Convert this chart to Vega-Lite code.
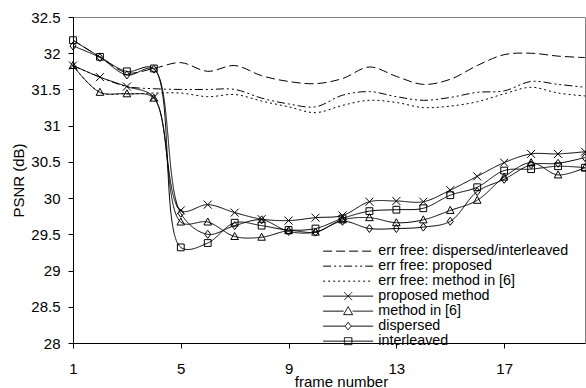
{
  "$schema": "https://vega.github.io/schema/vega-lite/v6.json",
  "width": 512,
  "height": 326,
  "autosize": {"type": "none"},
  "padding": {"left": 73, "top": 17, "right": 1, "bottom": 45},
  "background": "white",
  "config": {
    "view": {"stroke": "#808080", "strokeWidth": 1},
    "font": "Liberation Sans",
    "axis": {"grid": false, "domainColor": "black", "tickColor": "black", "labelColor": "black", "titleColor": "black", "titleFontWeight": "normal", "labelFont": "Liberation Sans", "titleFont": "Liberation Sans", "labelFontSize": 15, "titleFontSize": 15, "tickSize": 5}
  },
  "data": {"values": [
    {"s":"err free: dispersed/interleaved","f":1,"v":32.18},{"s":"err free: dispersed/interleaved","f":2,"v":31.95},{"s":"err free: dispersed/interleaved","f":3,"v":31.73},{"s":"err free: dispersed/interleaved","f":4,"v":31.79},{"s":"err free: dispersed/interleaved","f":5,"v":31.87},{"s":"err free: dispersed/interleaved","f":6,"v":31.75},{"s":"err free: dispersed/interleaved","f":7,"v":31.83},{"s":"err free: dispersed/interleaved","f":8,"v":31.69},{"s":"err free: dispersed/interleaved","f":9,"v":31.61},{"s":"err free: dispersed/interleaved","f":10,"v":31.58},{"s":"err free: dispersed/interleaved","f":11,"v":31.65},{"s":"err free: dispersed/interleaved","f":12,"v":31.81},{"s":"err free: dispersed/interleaved","f":13,"v":31.68},{"s":"err free: dispersed/interleaved","f":14,"v":31.57},{"s":"err free: dispersed/interleaved","f":15,"v":31.64},{"s":"err free: dispersed/interleaved","f":16,"v":31.83},{"s":"err free: dispersed/interleaved","f":17,"v":31.98},{"s":"err free: dispersed/interleaved","f":18,"v":32.0},{"s":"err free: dispersed/interleaved","f":19,"v":31.96},{"s":"err free: dispersed/interleaved","f":20,"v":31.94},
    {"s":"err free: proposed","f":1,"v":31.83},{"s":"err free: proposed","f":2,"v":31.67},{"s":"err free: proposed","f":3,"v":31.54},{"s":"err free: proposed","f":4,"v":31.51},{"s":"err free: proposed","f":5,"v":31.5},{"s":"err free: proposed","f":6,"v":31.5},{"s":"err free: proposed","f":7,"v":31.5},{"s":"err free: proposed","f":8,"v":31.38},{"s":"err free: proposed","f":9,"v":31.3},{"s":"err free: proposed","f":10,"v":31.26},{"s":"err free: proposed","f":11,"v":31.42},{"s":"err free: proposed","f":12,"v":31.47},{"s":"err free: proposed","f":13,"v":31.4},{"s":"err free: proposed","f":14,"v":31.35},{"s":"err free: proposed","f":15,"v":31.39},{"s":"err free: proposed","f":16,"v":31.46},{"s":"err free: proposed","f":17,"v":31.48},{"s":"err free: proposed","f":18,"v":31.61},{"s":"err free: proposed","f":19,"v":31.57},{"s":"err free: proposed","f":20,"v":31.53},
    {"s":"err free: method in [6]","f":1,"v":31.83},{"s":"err free: method in [6]","f":2,"v":31.46},{"s":"err free: method in [6]","f":3,"v":31.44},{"s":"err free: method in [6]","f":4,"v":31.45},{"s":"err free: method in [6]","f":5,"v":31.45},{"s":"err free: method in [6]","f":6,"v":31.4},{"s":"err free: method in [6]","f":7,"v":31.43},{"s":"err free: method in [6]","f":8,"v":31.34},{"s":"err free: method in [6]","f":9,"v":31.26},{"s":"err free: method in [6]","f":10,"v":31.18},{"s":"err free: method in [6]","f":11,"v":31.28},{"s":"err free: method in [6]","f":12,"v":31.35},{"s":"err free: method in [6]","f":13,"v":31.32},{"s":"err free: method in [6]","f":14,"v":31.25},{"s":"err free: method in [6]","f":15,"v":31.27},{"s":"err free: method in [6]","f":16,"v":31.33},{"s":"err free: method in [6]","f":17,"v":31.44},{"s":"err free: method in [6]","f":18,"v":31.53},{"s":"err free: method in [6]","f":19,"v":31.45},{"s":"err free: method in [6]","f":20,"v":31.41},
    {"s":"proposed method","f":1,"v":31.83},{"s":"proposed method","f":2,"v":31.67},{"s":"proposed method","f":3,"v":31.54},{"s":"proposed method","f":4,"v":31.39},{"s":"proposed method","f":5,"v":29.83},{"s":"proposed method","f":6,"v":29.91},{"s":"proposed method","f":7,"v":29.8},{"s":"proposed method","f":8,"v":29.71},{"s":"proposed method","f":9,"v":29.69},{"s":"proposed method","f":10,"v":29.73},{"s":"proposed method","f":11,"v":29.76},{"s":"proposed method","f":12,"v":29.95},{"s":"proposed method","f":13,"v":29.96},{"s":"proposed method","f":14,"v":29.95},{"s":"proposed method","f":15,"v":30.11},{"s":"proposed method","f":16,"v":30.3},{"s":"proposed method","f":17,"v":30.49},{"s":"proposed method","f":18,"v":30.61},{"s":"proposed method","f":19,"v":30.61},{"s":"proposed method","f":20,"v":30.64},
    {"s":"method in [6]","f":1,"v":31.83},{"s":"method in [6]","f":2,"v":31.46},{"s":"method in [6]","f":3,"v":31.44},{"s":"method in [6]","f":4,"v":31.38},{"s":"method in [6]","f":5,"v":29.67},{"s":"method in [6]","f":6,"v":29.67},{"s":"method in [6]","f":7,"v":29.47},{"s":"method in [6]","f":8,"v":29.46},{"s":"method in [6]","f":9,"v":29.55},{"s":"method in [6]","f":10,"v":29.53},{"s":"method in [6]","f":11,"v":29.7},{"s":"method in [6]","f":12,"v":29.73},{"s":"method in [6]","f":13,"v":29.66},{"s":"method in [6]","f":14,"v":29.7},{"s":"method in [6]","f":15,"v":29.83},{"s":"method in [6]","f":16,"v":29.97},{"s":"method in [6]","f":17,"v":30.29},{"s":"method in [6]","f":18,"v":30.49},{"s":"method in [6]","f":19,"v":30.32},{"s":"method in [6]","f":20,"v":30.42},
    {"s":"dispersed","f":1,"v":32.1},{"s":"dispersed","f":2,"v":31.94},{"s":"dispersed","f":3,"v":31.7},{"s":"dispersed","f":4,"v":31.78},{"s":"dispersed","f":5,"v":29.79},{"s":"dispersed","f":6,"v":29.5},{"s":"dispersed","f":7,"v":29.62},{"s":"dispersed","f":8,"v":29.7},{"s":"dispersed","f":9,"v":29.54},{"s":"dispersed","f":10,"v":29.53},{"s":"dispersed","f":11,"v":29.68},{"s":"dispersed","f":12,"v":29.58},{"s":"dispersed","f":13,"v":29.58},{"s":"dispersed","f":14,"v":29.6},{"s":"dispersed","f":15,"v":29.68},{"s":"dispersed","f":16,"v":30.09},{"s":"dispersed","f":17,"v":30.26},{"s":"dispersed","f":18,"v":30.46},{"s":"dispersed","f":19,"v":30.48},{"s":"dispersed","f":20,"v":30.56},
    {"s":"interleaved","f":1,"v":32.18},{"s":"interleaved","f":2,"v":31.95},{"s":"interleaved","f":3,"v":31.75},{"s":"interleaved","f":4,"v":31.79},{"s":"interleaved","f":5,"v":29.32},{"s":"interleaved","f":6,"v":29.38},{"s":"interleaved","f":7,"v":29.66},{"s":"interleaved","f":8,"v":29.62},{"s":"interleaved","f":9,"v":29.56},{"s":"interleaved","f":10,"v":29.58},{"s":"interleaved","f":11,"v":29.72},{"s":"interleaved","f":12,"v":29.82},{"s":"interleaved","f":13,"v":29.84},{"s":"interleaved","f":14,"v":29.86},{"s":"interleaved","f":15,"v":30.04},{"s":"interleaved","f":16,"v":30.15},{"s":"interleaved","f":17,"v":30.38},{"s":"interleaved","f":18,"v":30.4},{"s":"interleaved","f":19,"v":30.44},{"s":"interleaved","f":20,"v":30.42}
  ]},
  "encoding": {
    "x": {"field": "f", "type": "quantitative", "scale": {"domain": [1, 20], "nice": false, "zero": false},
      "axis": {"values": [1, 5, 9, 13, 17], "title": "frame number", "labelPadding": 13, "labelAlign": "center", "titleX": 268, "titleY": 43, "titleBaseline": "alphabetic", "titleAlign": "center", "titleAnchor": null}},
    "y": {"field": "v", "type": "quantitative", "scale": {"domain": [28, 32.5], "nice": false, "zero": false},
      "axis": {"values": [28, 28.5, 29, 29.5, 30, 30.5, 31, 31.5, 32, 32.5], "format": "~f", "title": "PSNR (dB)", "labelPadding": 8, "titlePadding": 4}}
  },
  "layer": [
    {
      "mark": {"type": "line", "interpolate": "catmull-rom", "color": "black", "strokeWidth": 1},
      "encoding": {
        "strokeDash": {"field": "s", "type": "nominal",
          "scale": {"domain": ["err free: dispersed/interleaved", "err free: proposed", "err free: method in [6]", "proposed method", "method in [6]", "dispersed", "interleaved"],
            "range": [[9, 4], [8, 3, 2, 3, 2, 3], [2, 3], [1, 0], [1, 0], [1, 0], [1, 0]]},
          "legend": {"title": null, "orient": "none", "legendX": 248, "legendY": 227, "padding": 0,
            "labelFontSize": 14.3, "labelFont": "Liberation Sans", "labelColor": "black", "labelOffset": 43, "labelLimit": 0, "rowPadding": -1,
            "symbolSize": 100, "symbolStrokeWidth": 1, "symbolStrokeColor": "black",
            "encode": {
              "symbols": {"update": {
              "shape": {"signal": "datum.value === 'proposed method' ? 'M-1,0H9M3.2,-0.8L4.8,0.8M3.2,0.8L4.8,-0.8' : datum.value === 'method in [6]' ? 'M-1,0H3.1M4.9,0H9M4,-0.9L4.9,0.7L3.1,0.7Z' : datum.value === 'dispersed' ? 'M-1,0H3.4M4.6,0H9M4,-0.75L4.6,0L4,0.75L3.4,0Z' : datum.value === 'interleaved' ? 'M-1,0H9M3.25,-0.7H4.75V0.7H3.25Z' : 'M-1,0H9'"},
              "size": {"value": 100},
              "stroke": {"value": "black"},
              "strokeWidth": {"value": 1},
              "strokeJoin": {"value": "bevel"},
              "fill": {"value": "transparent"}
            }}}
          }}
      }
    },
    {
      "transform": [{"filter": {"field": "s", "oneOf": ["proposed method", "method in [6]", "dispersed", "interleaved"]}}],
      "mark": {"type": "point", "filled": false, "color": "black", "strokeWidth": 1, "size": 64, "opacity": 1},
      "encoding": {
        "shape": {"field": "s", "type": "nominal",
          "scale": {"domain": ["proposed method", "method in [6]", "dispersed", "interleaved"],
            "range": ["M-1,-1L1,1M-1,1L1,-1", "M0,-1L0.95,0.75L-0.95,0.75Z", "M0,-1L0.75,0L0,1L-0.75,0Z", "M-0.85,-0.85H0.85V0.85H-0.85Z"]},
          "legend": null}
      }
    }
  ]
}
